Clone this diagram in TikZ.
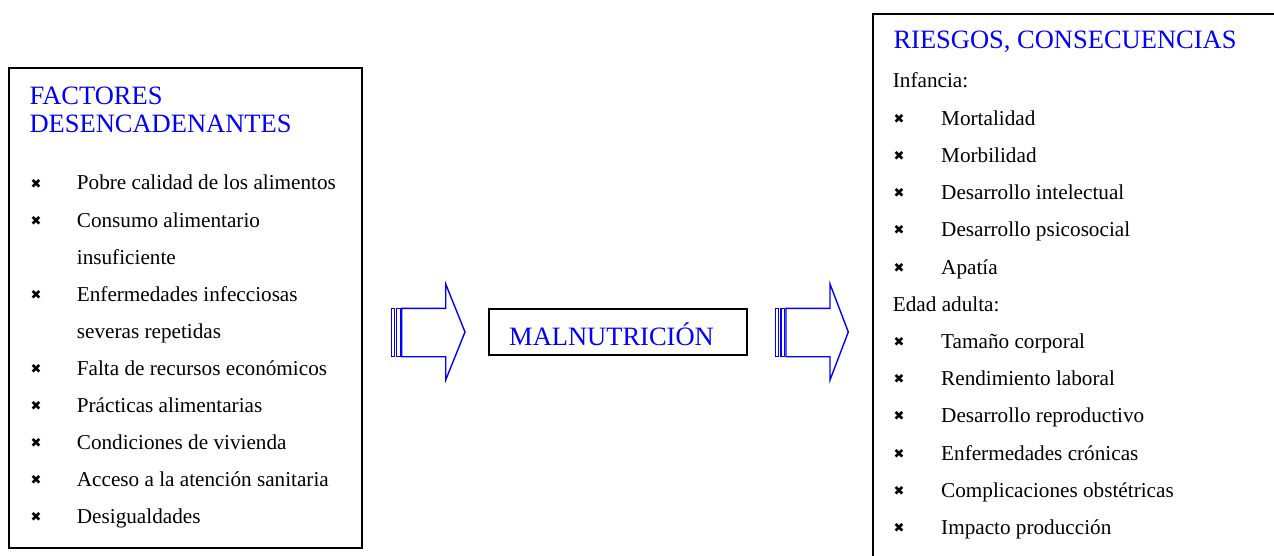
\documentclass[tikz,border=0pt]{standalone}
\usepackage{fontspec}
\setmainfont{Liberation Serif}
\newfontfamily\dingfont{DejaVu Sans}
\definecolor{titleblue}{RGB}{0,0,255}
\tikzset{
  panel/.style={draw=black, line width=1.6pt, inner sep=0pt},
  heading/.style={anchor=base west, inner sep=0pt, text=titleblue,
    font=\fontsize{26.5}{29}\selectfont},
  entry/.style={anchor=base west, inner sep=0pt,
    font=\fontsize{21.2}{25}\selectfont},
  mark x/.style={anchor=center, inner sep=0pt,
    font=\dingfont\fontsize{13}{14}\selectfont},
  blockarrow/.style={draw=titleblue, line width=1.4pt, line join=miter},
}
\begin{document}
\begin{tikzpicture}[x=1pt, y=-1pt]
\useasboundingbox[fill=white] (0,0) rectangle (1274,556);
\clip (0,0) rectangle (1274,556);

% ---- causes panel ----
\node[panel, minimum width=353pt, minimum height=480pt, anchor=north west]
  (causes) at (8,67) {};
\node[heading] (causesA) at (29.3,104.3) {FACTORES};
\node[heading] (causesB) at (29.3,133) {DESENCADENANTES};
\foreach \txt/\y/\b [count=\i] in {
  Pobre calidad de los alimentos/190/1,
  Consumo alimentario/227/1,
  insuficiente/264/0,
  Enfermedades infecciosas/301/1,
  severas repetidas/338/0,
  Falta de recursos económicos/375/1,
  Prácticas alimentarias/412/1,
  Condiciones de vivienda/449/1,
  Acceso a la atención sanitaria/486/1,
  Desigualdades/523/1}{
  \node[entry] (c\i) at (76.7,\y) {\txt};
  \ifnum\b=1
    \node[mark x] (cm\i) at (36,\y-6.5) {✖};
  \fi
}

% ---- first block arrow ----
\draw[blockarrow] (391.7,308.3) rectangle (394.7,356.7);
\draw[blockarrow] (396.7,308.3) rectangle (400.2,356.7);
\draw[blockarrow] (401.7,308.3) -- (445.7,308.3) -- (445.7,284)
  -- (465,332) -- (445.7,380) -- (445.7,356.7) -- (401.7,356.7) -- cycle;

% ---- centre box ----
\node[panel, minimum width=258pt, minimum height=46pt, anchor=west]
  (mal) at (488.3,332) {};
\node[heading, anchor=west] (malT) at (509,334) {MALNUTRICIÓN};

% ---- second block arrow ----
\draw[blockarrow] (775.7,308.3) rectangle (778.7,356.7);
\draw[blockarrow] (780.9,308.3) rectangle (784.5,356.7);
\draw[blockarrow] (786,308.3) -- (830,308.3) -- (830,284)
  -- (848.3,332) -- (830,380) -- (830,356.7) -- (786,356.7) -- cycle;

% ---- consequences panel ----
\node[panel, minimum width=420pt, minimum height=560pt, anchor=north west]
  (risks) at (872,13) {};
\node[heading] (risksT) at (893.3,48.3) {RIESGOS, CONSECUENCIAS};
\node[entry] (inf) at (892.7,88) {Infancia:};
\foreach \txt/\y [count=\i] in {
  Mortalidad/125.2, Morbilidad/162.4, Desarrollo intelectual/199.6,
  Desarrollo psicosocial/236.8, Apatía/274}{
  \node[entry] (r\i) at (941,\y) {\txt};
  \node[mark x] (rm\i) at (899,\y-6.5) {✖};
}
\node[entry] (adu) at (892.7,311.2) {Edad adulta:};
\foreach \txt/\y [count=\i] in {
  Tamaño corporal/348.4, Rendimiento laboral/385.6,
  Desarrollo reproductivo/422.8, Enfermedades crónicas/460,
  Complicaciones obstétricas/497.2, Impacto producción/534.4}{
  \node[entry] (a\i) at (941,\y) {\txt};
  \node[mark x] (am\i) at (899,\y-6.5) {✖};
}
\end{tikzpicture}
\end{document}
